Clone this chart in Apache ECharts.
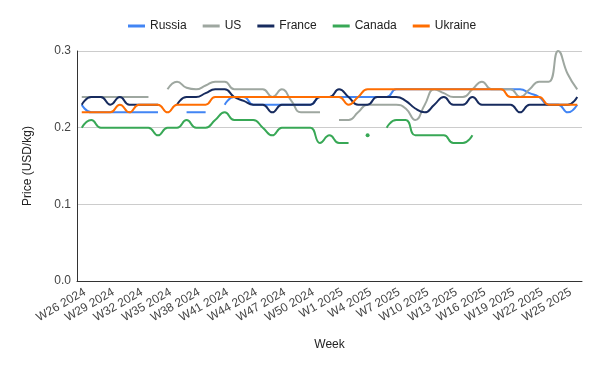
<!DOCTYPE html>
<html>
<head>
<meta charset="utf-8">
<script src="https://cdn.jsdelivr.net/npm/echarts@6/dist/echarts.min.js"></script>
<style>
html,body{margin:0;padding:0;background:#fff;}
#chart{width:600px;height:371px;}
</style>
</head>
<body>
<div id="chart"></div>
<script>
const weeks = [
  'W26 2024','W27 2024','W28 2024','W29 2024','W30 2024','W31 2024','W32 2024','W33 2024','W34 2024',
  'W35 2024','W36 2024','W37 2024','W38 2024','W39 2024','W40 2024','W41 2024','W42 2024','W43 2024',
  'W44 2024','W45 2024','W46 2024','W47 2024','W48 2024','W49 2024','W50 2024','W51 2024','W52 2024',
  'W1 2025','W2 2025','W3 2025','W4 2025','W5 2025','W6 2025','W7 2025','W8 2025','W9 2025',
  'W10 2025','W11 2025','W12 2025','W13 2025','W14 2025','W15 2025','W16 2025','W17 2025','W18 2025',
  'W19 2025','W20 2025','W21 2025','W22 2025','W23 2025','W24 2025','W25 2025','W26 2025'
];

const russia = [
  0.23, 0.22, 0.22, 0.22, 0.22, 0.22, 0.22, 0.22, 0.22, null,
  null, 0.22, 0.22, 0.22, null, 0.23, 0.24, 0.24, 0.23, 0.23,
  0.23, 0.23, 0.23, 0.23, 0.23, 0.24, 0.24, 0.24, 0.24, 0.24,
  0.24, 0.24, 0.24, 0.25, 0.25, 0.25, 0.25, 0.25, 0.25, 0.25,
  0.25, 0.25, 0.25, 0.25, 0.25, 0.25, 0.25, 0.245, 0.24, 0.23,
  0.23, 0.22, 0.23
];

const us = [
  0.24, 0.24, 0.24, 0.24, 0.24, 0.24, 0.24, 0.24, null, 0.25,
  0.26, 0.252, 0.25, 0.255, 0.26, 0.26, 0.25, 0.25, 0.25, 0.25,
  0.24, 0.25, 0.235, 0.22, 0.22, 0.22, null, 0.21, 0.21, 0.22,
  0.23, 0.23, 0.23, 0.23, 0.225, 0.21, 0.23, 0.25, 0.245, 0.24,
  0.24, 0.25, 0.26, 0.25, 0.25, 0.25, 0.24, 0.25, 0.26, 0.26,
  0.30, 0.27, 0.25
];

const france = [
  0.23, 0.24, 0.24, 0.23, 0.24, 0.23, 0.23, 0.23, 0.23, null,
  0.23, 0.24, 0.24, 0.245, 0.25, 0.25, 0.24, 0.235, 0.23, 0.23,
  0.22, 0.23, 0.23, 0.23, 0.23, 0.24, 0.24, 0.25, 0.24, 0.23,
  0.23, 0.24, 0.24, 0.24, 0.235, 0.225, 0.22, 0.23, 0.24, 0.23,
  0.23, 0.24, 0.23, 0.23, 0.23, 0.23, 0.22, 0.23, 0.23, 0.23,
  0.23, 0.23, 0.24
];

const canada = [
  0.20, 0.21, 0.20, 0.20, 0.20, 0.20, 0.20, 0.20, 0.19, 0.20,
  0.20, 0.21, 0.20, 0.20, 0.21, 0.22, 0.21, 0.21, 0.21, 0.20,
  0.19, 0.20, 0.20, 0.20, 0.20, 0.18, 0.19, 0.18, 0.18, null,
  0.19, null, 0.20, 0.21, 0.21, 0.19, 0.19, 0.19, 0.19, 0.18,
  0.18, 0.19, null, null, null, null, null, null, null, null,
  null, null, null
];

const ukraine = [
  0.22, 0.22, 0.22, 0.22, 0.23, 0.22, 0.23, 0.23, 0.23, 0.22,
  0.23, 0.23, 0.23, 0.23, 0.24, 0.24, 0.24, 0.24, 0.24, 0.24,
  0.24, 0.24, 0.24, 0.24, 0.24, 0.24, 0.24, 0.24, 0.23, 0.24,
  0.25, 0.25, 0.25, 0.25, 0.25, 0.25, 0.25, 0.25, 0.25, 0.25,
  0.25, 0.25, 0.25, 0.25, 0.25, 0.24, 0.24, 0.24, 0.24, 0.23,
  0.23, 0.23, 0.23
];

const yTicks = ['0.0', '0.1', '0.2', '0.3'];

const seriesDefs = [
  { name: 'Russia', data: russia, color: '#4285f4' },
  { name: 'US', data: us, color: '#9ea7a0' },
  { name: 'France', data: france, color: '#172b5e' },
  { name: 'Canada', data: canada, color: '#38a856' },
  { name: 'Ukraine', data: ukraine, color: '#ff6d01' }
];

// Isolated points (no neighbours) get a dot so they remain visible
function withIsolatedDots(arr) {
  return arr.map(function (v, i) {
    const prev = i > 0 ? arr[i - 1] : null;
    const next = i < arr.length - 1 ? arr[i + 1] : null;
    if (v !== null && prev === null && next === null) {
      return { value: v, symbol: 'circle', symbolSize: 4 };
    }
    return v;
  });
}

const chart = echarts.init(document.getElementById('chart'), null, { renderer: 'canvas' });
const FONT = '"Liberation Sans", Arial, sans-serif';

chart.setOption({
  animation: false,
  backgroundColor: '#ffffff',
  textStyle: { fontFamily: FONT },
  legend: {
    top: 20,
    left: 128,
    padding: 0,
    icon: 'rect',
    itemWidth: 17,
    itemHeight: 3,
    itemGap: 16,
    textStyle: { color: '#222', fontSize: 12, fontFamily: FONT },
    data: seriesDefs.map(function (s) { return s.name; })
  },
  grid: { left: 77, right: 18, top: 51, bottom: 90, containLabel: false },
  xAxis: {
    type: 'category',
    data: weeks,
    boundaryGap: true,
    axisLine: { lineStyle: { color: '#333', width: 1 } },
    axisTick: { show: false },
    axisLabel: {
      interval: 2, rotate: 30, color: '#444', fontSize: 12, margin: 5,
      verticalAlign: 'top', fontFamily: FONT
    },
    name: 'Week',
    nameLocation: 'middle',
    nameGap: 58,
    nameTextStyle: { color: '#222', fontSize: 12, fontFamily: FONT }
  },
  yAxis: {
    type: 'value',
    min: 0,
    max: 0.3,
    interval: 0.1,
    axisLine: { show: true, lineStyle: { color: '#333', width: 1 } },
    axisTick: { show: false },
    splitLine: { lineStyle: { color: '#cccccc', width: 1 } },
    axisLabel: {
      color: '#444', fontSize: 12, margin: 6, fontFamily: FONT,
      formatter: function (v) { return yTicks[Math.round(v * 10)]; }
    },
    name: 'Price (USD/kg)',
    nameLocation: 'middle',
    nameGap: 43,
    nameTextStyle: { color: '#222', fontSize: 12, fontFamily: FONT }
  },
  series: seriesDefs.map(function (s) {
    return {
      name: s.name,
      type: 'line',
      data: withIsolatedDots(s.data),
      smooth: 0.5,
      connectNulls: false,
      symbol: 'none',
      showSymbol: true,
      showAllSymbol: true,
      color: s.color,
      itemStyle: { color: s.color },
      lineStyle: { color: s.color, width: 2 },
      emphasis: { disabled: true }
    };
  })
});
</script>
</body>
</html>
